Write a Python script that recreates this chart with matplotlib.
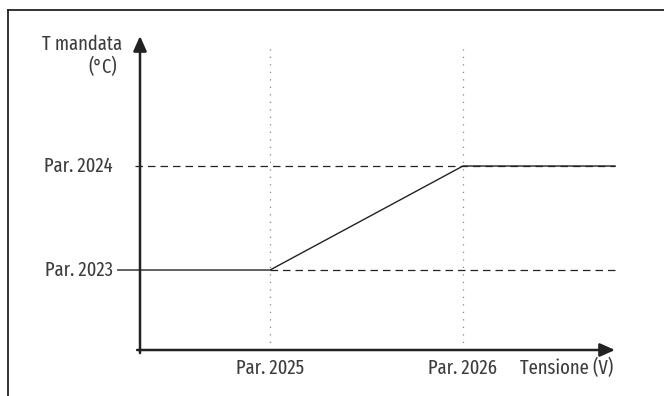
import matplotlib
matplotlib.use("Agg")
import matplotlib.pyplot as plt

# schematic values (parameter positions on each axis)
x_params = [1.0, 2.0]
x_labels = ["Par. 2025", "Par. 2026"]
y_params = [1.0, 2.0]
y_labels = ["Par. 2023", "Par. 2024"]

x_title = "Tensione (V)"
y_title = ["T mandata", "(°C)"]

# axis extents
x_min, x_max = 0.326, 2.788
y_min, y_max = 0.231, 3.25

plt.rcParams["font.family"] = ["Fira Sans Extra Condensed", "Archivo Narrow",
                               "Liberation Sans", "DejaVu Sans"]

ink = "#222222"
text_col = "#3c3c3c"

fig = plt.figure(figsize=(6.64, 3.96), dpi=100)

# outer frame (top and left only)
fig.add_artist(plt.Line2D([8 / 664, 1], [1 - 10 / 396, 1 - 10 / 396],
                          color=ink, lw=1.3, transform=fig.transFigure))
fig.add_artist(plt.Line2D([8 / 664, 8 / 664], [0, 1 - 10 / 396],
                          color=ink, lw=1.3, transform=fig.transFigure))

ax = fig.add_axes([140 / 664, 46 / 396, 475 / 664, 314 / 396])
ax.set_xlim(x_min, x_max)
ax.set_ylim(y_min, y_max)
ax.axis("off")

# dotted vertical guides
for xv in x_params:
    ax.plot([xv, xv], [y_min, y_max - 0.12], color="#888888",
            lw=0.9, linestyle=(0, (1, 5)), clip_on=False)

# dashed horizontal reference levels
ax.plot([x_min - 0.025, x_max], [y_params[1]] * 2, color=ink, lw=0.9,
        linestyle=(0, (6, 4)), clip_on=False)
ax.plot([x_params[0], x_max], [y_params[0]] * 2, color=ink, lw=0.9,
        linestyle=(0, (6, 4)), clip_on=False)

# characteristic curve
curve_x = [x_min - 0.115, x_params[0], x_params[1], x_max]
curve_y = [y_params[0], y_params[0], y_params[1], y_params[1]]
ax.plot(curve_x, curve_y, color=ink, lw=1.0, clip_on=False)

# axes with arrows
ax.annotate("", xy=(x_max, y_min), xytext=(x_min - 0.015, y_min),
            arrowprops=dict(arrowstyle="-|>,head_length=0.9,head_width=0.4",
                            color=ink, lw=1.8, shrinkA=0, shrinkB=0),
            annotation_clip=False)
ax.annotate("", xy=(x_min, y_max), xytext=(x_min, y_min - 0.03),
            arrowprops=dict(arrowstyle="-|>,head_length=0.9,head_width=0.4",
                            color=ink, lw=1.8, shrinkA=0, shrinkB=0),
            annotation_clip=False)

fs = 14.5
for yv, lab in zip(y_params, y_labels):
    ax.text(x_min - 0.14, yv, lab, ha="right", va="center", fontsize=fs,
            color=text_col)
for xv, lab in zip(x_params, x_labels):
    ax.text(xv, y_min - 0.175, lab, ha="center", va="center", fontsize=fs,
            color=text_col)

ax.text(x_max - 0.01, y_min - 0.175, x_title, ha="right", va="center",
        fontsize=fs, color=text_col)
ax.text(x_min - 0.093, y_max - 0.077, y_title[0], ha="right", va="center",
        fontsize=fs, color=text_col)
ax.text(x_min - 0.119, y_max - 0.298, y_title[1], ha="right", va="center",
        fontsize=fs, color=text_col)

fig.savefig("out.png", dpi=100)
